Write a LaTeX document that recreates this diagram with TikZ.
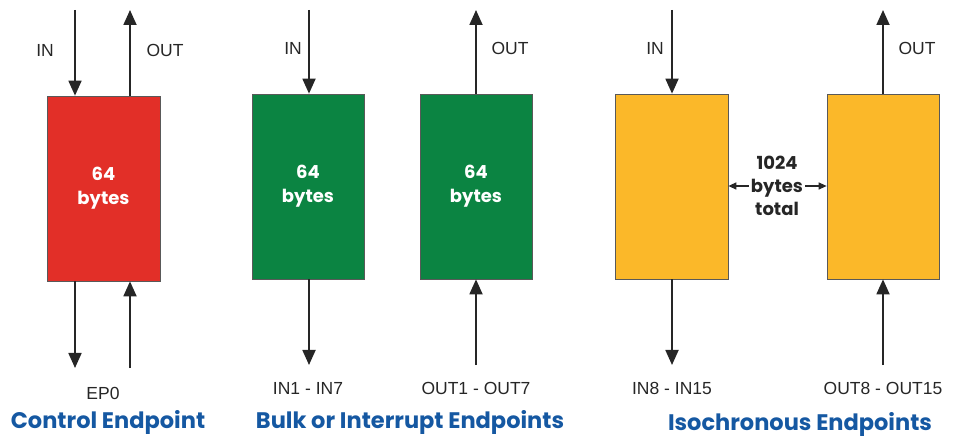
\documentclass[tikz,border=0pt]{standalone}
\usepackage{fontspec}
\setsansfont{Liberation Sans}
\newfontfamily\headfont{Poppins}
\usetikzlibrary{arrows.meta}
\definecolor{ctlred}{HTML}{E22F28}
\definecolor{bulkgreen}{HTML}{0B8442}
\definecolor{isoyellow}{HTML}{FBB829}
\definecolor{titleblue}{HTML}{1558A2}
\begin{document}
\begin{tikzpicture}[x=1pt,y=-1pt,
  buf/.style={rectangle,draw=black!65,line width=0.7pt,minimum width=112pt,minimum height=185pt,inner sep=0pt,
    align=center,text=white,font=\headfont\bfseries\fontsize{18}{24}\selectfont},
  pipe/.style={-{Triangle[width=13pt,length=15pt]},line width=1.8pt,draw=black!85},
  tick/.style={-{Triangle[width=7pt,length=8pt]},line width=1.2pt,draw=black!85},
  lbl/.style={font=\sffamily\fontsize{17.5}{20}\selectfont,text=black!85},
  title/.style={font=\headfont\bfseries\fontsize{22.5}{26}\selectfont,text=titleblue}]
\useasboundingbox (0,0) rectangle (956,438);
% control endpoint
\node at (103.5,188.5) (ctl) [buf,minimum width=113pt,fill=ctlred] {64\\bytes};
\coordinate (ctlin) at (75,10);
\coordinate (ctlout) at (130,10);
\coordinate (ctldn) at (75,368);
\coordinate (ctlup) at (130,368);
\draw [pipe] (ctlin) -- (ctlin |- ctl.north);
\draw [pipe] (ctlout |- ctl.north) -- (ctlout);
\draw [pipe] (ctldn |- ctl.south) -- (ctldn);
\draw [pipe] (ctlup) -- (ctlup |- ctl.south);
\node at (45,50) (ctlinl) [lbl] {IN};
\node at (165,50) (ctloutl) [lbl] {OUT};
\node at (103,393) (ep0) [lbl] {EP0};
\node at (108,422) (ctlt) [title] {Control Endpoint};
% bulk / interrupt endpoints
\node at (308,186.5) (bin) [buf,fill=bulkgreen] {64\\bytes};
\node at (476,186.5) (bout) [buf,fill=bulkgreen] {64\\bytes};
\coordinate (binin) at (309,10);
\coordinate (bindn) at (309,365);
\coordinate (boutout) at (476,10);
\coordinate (boutup) at (476,365);
\draw [pipe] (binin) -- (binin |- bin.north);
\draw [pipe] (bindn |- bin.south) -- (bindn);
\draw [pipe] (boutout |- bout.north) -- (boutout);
\draw [pipe] (boutup) -- (boutup |- bout.south);
\node at (293,48) (binl) [lbl] {IN};
\node at (510,48) (boutl) [lbl] {OUT};
\node at (308,388) (binn) [lbl] {IN1 - IN7};
\node at (476,388) (boutn) [lbl] {OUT1 - OUT7};
\node at (410,422) (bulkt) [title] {Bulk or Interrupt Endpoints};
% isochronous endpoints
\node at (671.5,186.5) (iin) [buf,minimum width=113pt,fill=isoyellow] {};
\node at (883,186.5) (iout) [buf,fill=isoyellow] {};
\coordinate (iinin) at (672,10);
\coordinate (iindn) at (672,365);
\coordinate (ioutout) at (883,10);
\coordinate (ioutup) at (883,365);
\draw [pipe] (iinin) -- (iinin |- iin.north);
\draw [pipe] (iindn |- iin.south) -- (iindn);
\draw [pipe] (ioutout |- iout.north) -- (ioutout);
\draw [pipe] (ioutup) -- (ioutup |- iout.south);
\node at (655,48) (iinl) [lbl] {IN};
\node at (917,48) (ioutl) [lbl] {OUT};
\node at (672,388) (iinn) [lbl] {IN8 - IN15};
\node at (883,388) (ioutn) [lbl] {OUT8 - OUT15};
\node at (800,424) (isot) [title] {Isochronous Endpoints};
\node at (777,186) (tot) [align=center,inner sep=2pt,text=black!85,
  font=\headfont\bfseries\fontsize{18}{23}\selectfont] {1024\\bytes\\total};
\draw [tick] (tot.west) -- (tot.west -| iin.east);
\draw [tick] (tot.east) -- (tot.east -| iout.west);
\end{tikzpicture}
\end{document}
